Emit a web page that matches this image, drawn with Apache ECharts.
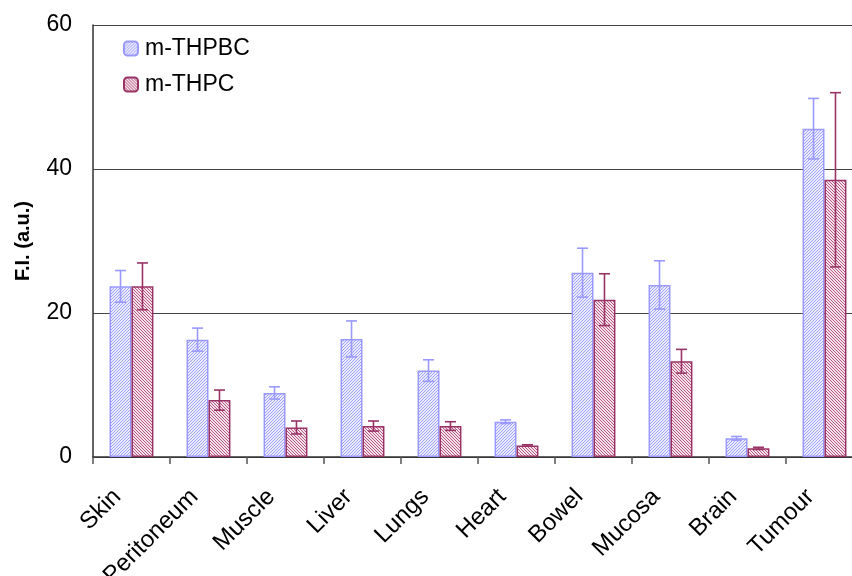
<!DOCTYPE html>
<html><head><meta charset="utf-8">
<script src="https://cdn.jsdelivr.net/npm/echarts@6/dist/echarts.min.js"></script>
<style>html,body{margin:0;padding:0;background:#fff}#c{width:852px;height:576px}</style>
</head><body><div id="c"></div>
<script>
const categories = ['Skin','Peritoneum','Muscle','Liver','Lungs','Heart','Bowel','Mucosa','Brain','Tumour'];
const seriesNames = ['m-THPBC','m-THPC'];
const thpbcValues = [23.7, 16.3, 8.9, 16.4, 12.0, 4.9, 25.6, 23.9, 2.6, 45.6];
const thpbcErrors = [2.2, 1.6, 0.85, 2.5, 1.5, 0.25, 3.4, 3.35, 0.25, 4.2];
const thpcValues  = [23.7, 7.9, 4.1, 4.3, 4.3, 1.6, 21.85, 13.3, 1.2, 38.5];
const thpcErrors  = [3.25, 1.4, 0.9, 0.7, 0.6, 0.1, 3.6, 1.65, 0.15, 12.1];
const yTicks = [0, 20, 40, 60];

function makePattern(n, bg, line, dir) {
  const c = document.createElement('canvas');
  c.width = n; c.height = n;
  const g = c.getContext('2d');
  g.fillStyle = bg; g.fillRect(0, 0, n, n);
  g.fillStyle = line;
  for (let y = 0; y < n; y++) {
    const x = dir > 0 ? (n - 1 - y) : y;
    g.fillRect(x, y, 1, 1);
  }
  return c;
}
const bluePat = {image: makePattern(3, '#ececff', '#a0a0ff', 1), repeat: 'repeat'};
const redPat = {image: makePattern(3, '#f6e4ec', '#b4567f', -1), repeat: 'repeat'};

const BLUE = '#9999ff', RED = '#993366';
const catGap = 0.43;

function errSeries(vals, errs, color, side) {
  return {
    type: 'custom',
    silent: true,
    z: 10,
    data: vals.map((v, i) => [i, v, errs[i]]),
    renderItem: function (params, api) {
      const i = api.value(0), v = api.value(1), e = api.value(2);
      const band = api.size([1, 0])[0];
      const bw = band * (1 - catGap) / 2;
      const cx = api.coord([i, v])[0] + side * bw / 2;
      const yt = api.coord([i, v + e])[1];
      const yb = api.coord([i, v - e])[1];
      const hw = 5.5;
      const st = {stroke: color, lineWidth: 1.6};
      return {type: 'group', children: [
        {type: 'line', shape: {x1: cx, y1: yt, x2: cx, y2: yb}, style: st},
        {type: 'line', shape: {x1: cx - hw, y1: yt, x2: cx + hw, y2: yt}, style: st},
        {type: 'line', shape: {x1: cx - hw, y1: yb, x2: cx + hw, y2: yb}, style: st}
      ]};
    }
  };
}

const FONT = 'Liberation Sans, Arial, sans-serif';
const chart = echarts.init(document.getElementById('c'), null, {renderer: 'canvas'});
chart.setOption({
  animation: false,
  textStyle: {fontFamily: FONT},
  grid: {left: 93, right: -11, top: 25, bottom: 119, containLabel: false, outerBoundsMode: 'none'},
  legend: {
    orient: 'vertical', left: 118, top: 32, itemWidth: 14, itemHeight: 14, itemGap: 13,
    textStyle: {fontSize: 23, color: '#000', fontFamily: FONT, padding: [0, 0, 0, 2]},
    data: seriesNames
  },
  xAxis: {
    type: 'category', data: categories,
    axisLine: {lineStyle: {color: '#333', width: 1.5}},
    axisTick: {show: true, length: 7, lineStyle: {color: '#555', width: 1.5}},
    axisLabel: {rotate: 45, fontSize: 24, color: '#000', margin: 22, interval: 0,
                formatter: function (v) { return v + '   '; }}
  },
  yAxis: {
    type: 'value', min: yTicks[0], max: yTicks[yTicks.length - 1], interval: 20,
    name: 'F.I. (a.u.)', nameLocation: 'middle', nameGap: 60, nameRotate: 90,
    nameTextStyle: {fontSize: 20, fontWeight: 'bold', color: '#000'},
    axisLine: {show: true, lineStyle: {color: '#333', width: 1.5}},
    axisTick: {show: false},
    axisLabel: {fontSize: 23, color: '#000', margin: 21},
    splitLine: {show: true, lineStyle: {color: '#444', width: 1}}
  },
  series: [
    {name: seriesNames[0], type: 'bar', data: thpbcValues, barGap: '0%', barCategoryGap: '43%',
     itemStyle: {color: bluePat, borderColor: BLUE, borderWidth: 1.5}},
    {name: seriesNames[1], type: 'bar', data: thpcValues, barGap: '0%', barCategoryGap: '43%',
     itemStyle: {color: redPat, borderColor: RED, borderWidth: 1.5}},
    errSeries(thpbcValues, thpbcErrors, BLUE, -1),
    errSeries(thpcValues, thpcErrors, RED, 1)
  ]
});
</script></body></html>
